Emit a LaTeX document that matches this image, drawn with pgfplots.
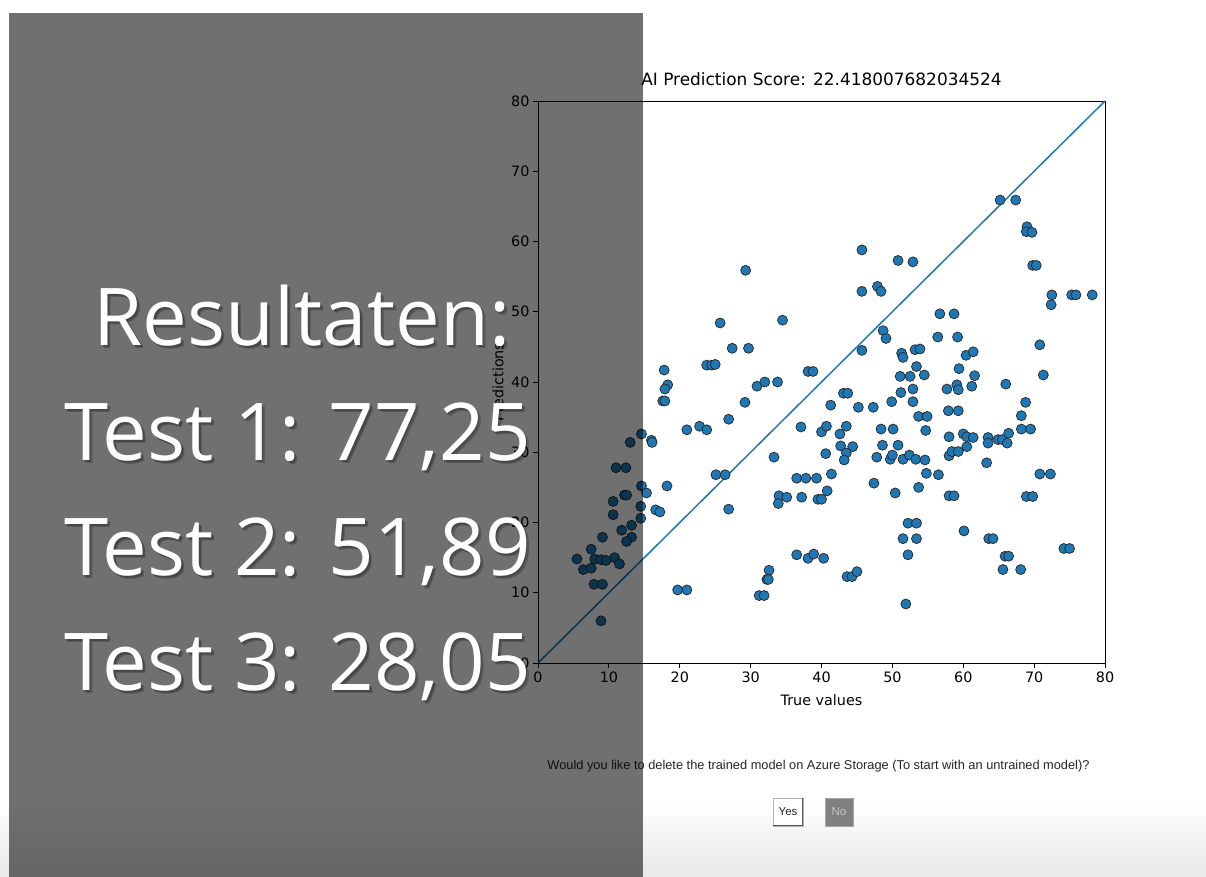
\documentclass[border=0pt]{standalone}
\usepackage{fontspec}
\setmainfont{DejaVu Sans}
\newfontfamily\bigfont{Open Sans}
\newfontfamily\uifont{Liberation Sans}
\usepackage{pgfplots}
\usepackage{pgfplotstable}
\pgfplotsset{compat=1.18}
\definecolor{mplblue}{RGB}{31,119,180}

\pgfplotstableread{
x y
25.7 48.4
27.4 44.8
23.8 42.4
24.5 42.4
25.0 42.5
17.8 41.7
18.3 39.6
17.9 39.0
17.6 37.3
17.9 37.3
26.9 34.7
21.0 33.2
22.8 33.7
23.8 33.2
14.6 32.6
13.0 31.4
16.0 31.7
16.1 31.4
11.0 27.8
12.4 27.8
25.1 26.8
26.4 26.8
14.6 25.2
18.2 25.2
15.3 24.2
12.2 23.9
12.5 23.9
10.6 23.0
14.5 22.3
16.6 21.8
17.2 21.5
26.9 21.9
10.6 21.1
14.5 20.6
13.2 19.6
11.8 18.9
13.2 17.9
12.5 17.3
9.1 17.9
7.5 16.2
5.5 14.8
8.0 14.8
8.9 14.7
9.6 14.6
10.8 15.0
11.5 14.1
6.4 13.3
7.5 13.5
7.9 11.2
9.1 11.2
19.7 10.4
21.0 10.4
8.9 6.0
45.7 58.8
50.8 57.3
52.9 57.1
29.3 55.9
45.7 52.9
47.9 53.6
48.4 52.9
34.5 48.8
48.7 47.3
49.1 46.2
29.7 44.8
45.7 44.5
51.3 44.1
51.5 43.5
53.2 44.6
53.9 44.7
38.1 41.5
38.8 41.5
30.9 39.4
32.0 40.0
33.8 40.0
51.1 40.8
52.5 40.8
53.4 42.2
29.2 37.1
43.1 38.4
43.7 38.4
41.3 36.7
45.2 36.4
47.3 36.4
49.9 37.2
51.2 38.5
52.9 39.0
52.9 37.2
53.7 35.1
37.1 33.6
40.0 32.9
40.7 33.7
42.6 32.6
43.5 33.7
48.4 33.3
50.1 33.3
42.7 30.9
44.4 30.8
43.5 29.9
43.2 28.9
40.6 29.8
48.6 31.0
50.8 31.0
47.8 29.3
49.7 29.0
50.0 29.6
51.5 29.0
52.4 29.6
53.3 29.0
33.3 29.3
36.5 26.3
37.8 26.3
39.3 26.3
41.4 26.9
47.4 25.6
50.4 24.2
53.7 25.0
34.0 23.8
35.1 23.6
33.9 22.7
37.2 23.6
39.5 23.3
40.0 23.3
40.8 24.5
52.2 19.9
53.4 19.9
51.5 17.7
53.4 17.7
52.2 15.4
36.5 15.4
38.1 14.9
38.9 15.5
40.3 14.9
32.6 13.2
32.3 11.9
32.5 11.9
31.2 9.6
31.9 9.6
43.6 12.3
44.3 12.3
45.0 13.0
51.9 8.4
65.2 65.9
67.4 65.9
69.0 62.1
68.9 61.4
69.7 61.3
69.8 56.6
70.3 56.6
72.5 52.4
72.4 51.0
75.3 52.4
75.9 52.4
78.2 52.4
56.7 49.7
58.7 49.7
56.4 46.4
59.2 46.4
60.4 43.8
61.4 44.3
70.8 45.3
71.3 41.0
54.5 41.0
59.4 41.9
61.6 40.9
57.7 39.0
59.1 39.6
59.3 38.9
61.2 39.4
66.0 39.7
57.9 35.9
59.3 35.9
54.9 35.1
68.8 37.1
68.2 35.2
68.2 33.3
69.5 33.3
54.7 33.1
58.0 32.2
60.0 32.6
60.5 32.2
61.4 32.1
63.5 32.1
63.5 31.3
64.9 31.8
65.5 31.8
66.4 32.7
66.2 31.3
58.0 29.5
58.4 30.1
59.3 30.1
60.5 30.8
63.3 28.5
54.6 28.9
54.8 27.0
56.5 26.8
70.8 26.9
72.3 26.9
58.0 23.8
58.7 23.8
68.9 23.7
69.8 23.7
60.1 18.8
63.6 17.7
64.2 17.7
74.2 16.3
75.0 16.3
65.9 15.2
66.4 15.2
65.6 13.3
68.1 13.3
}\points

\newcommand{\bigline}[3]{%
  \node[anchor=base, font=\bigfont\fontsize{80}{80}\selectfont, text=black, opacity=0.22] at (#1bp+3bp, #2bp-3bp) {#3};
  \node[anchor=base, font=\bigfont\fontsize{80}{80}\selectfont, text=black, opacity=0.18] at (#1bp+1.5bp, #2bp-1.5bp) {#3};
  \node[anchor=base, font=\bigfont\fontsize{80}{80}\selectfont, text=white] at (#1bp, #2bp) {#3};
}

\begin{document}
\begin{tikzpicture}
\useasboundingbox (0,0) rectangle (1206bp,877bp);
\fill[white] (0,0) rectangle (1206bp,877bp);
\shade[top color=white, bottom color=black!9] (0,0) rectangle (1206bp,75bp);
\begin{axis}[
  at={(538bp,214bp)}, anchor=south west,
  scale only axis, width=567bp, height=562bp,
  xmin=0, xmax=80, ymin=0, ymax=80,
  xtick={0,10,...,80}, ytick={0,10,...,80},
  xtick pos=bottom, ytick pos=left,
  tick align=outside, major tick length=5bp,
  tick style={black, line width=0.8pt},
  axis line style={black, line width=0.8pt},
  every tick label/.append style={font=\fontsize{14.4}{17}\selectfont},
  /pgf/number format/assume math mode=true,
  title={AI Prediction Score: 22.418007682034524},
  title style={font=\fontsize{17}{20}\selectfont, at={(axis description cs:0.5,1.0178)}, anchor=base},
  xlabel={True values}, ylabel={Predictions},
  label style={font=\fontsize{14.4}{17}\selectfont},
  xlabel style={at={(axis description cs:0.5,-0.0765)}, anchor=base},
  ylabel style={at={(axis description cs:-0.0705,0.5)}, anchor=center},
]
\addplot[only marks, mark=*, mark size=5bp,
  mark options={fill=mplblue, draw=black!85, line width=0.7bp}] table[x=x, y=y] {\points};
\addplot[mplblue, line width=1.5bp, no marks] coordinates {(0,0) (80,80)};
\end{axis}

\node[anchor=base, font=\uifont\fontsize{12.85}{15}\selectfont, text=black!85] at (818.5bp,107bp)
  {Would you like to delete the trained model on Azure Storage (To start with an untrained model)?};
% buttons
\draw[fill=white, draw=black!30] (773bp,51bp) rectangle (803bp,79bp);
\draw[black!65, line width=1.2bp] (773bp,51.6bp) -- (802.4bp,51.6bp) -- (802.4bp,79bp);
\node[font=\uifont\fontsize{11.5}{13}\selectfont, text=black!85] at (788bp,65bp) {Yes};
\draw[fill=black!50, draw=black!35] (825bp,51bp) rectangle (853bp,79bp);
\node[font=\uifont\fontsize{11.5}{13}\selectfont, text=black!22] at (839bp,65bp) {No};

% overlay
\fill[black, opacity=0.561] (9bp,0) rectangle (643bp,864bp);

\bigline{302}{531}{Resultaten:}
\bigline{297.5}{416}{Test 1: 77,25}
\bigline{297.5}{301}{Test 2: 51,89}
\bigline{297.5}{186}{Test 3: 28,05}
\end{tikzpicture}
\end{document}
